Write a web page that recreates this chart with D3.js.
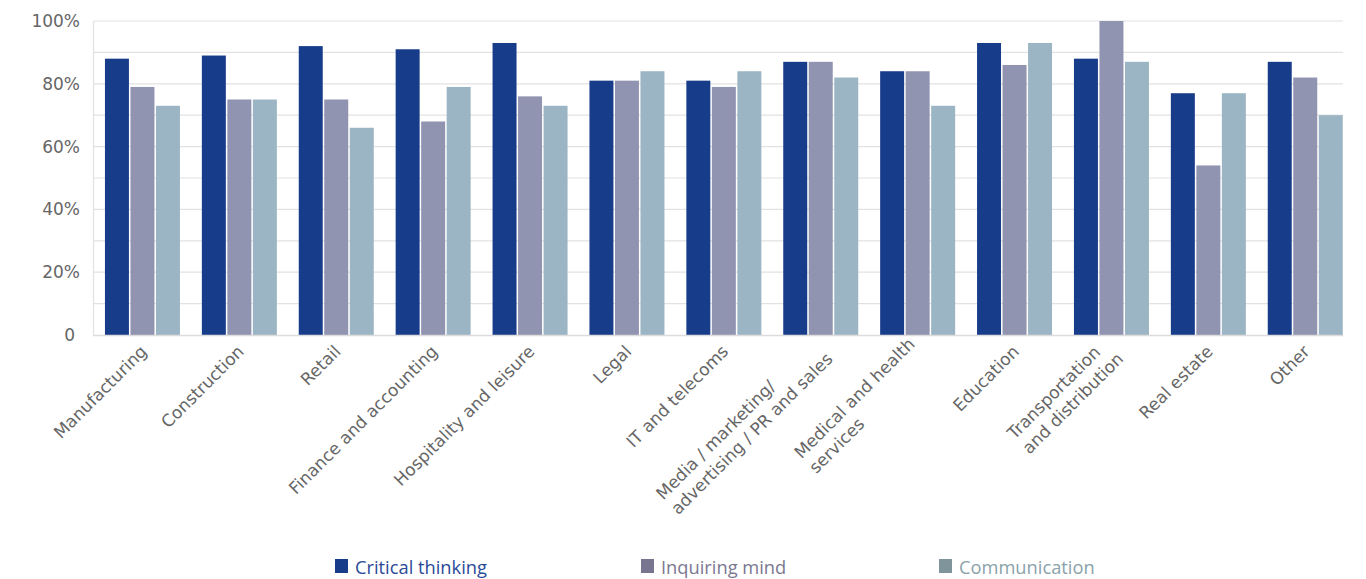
<!DOCTYPE html>
<html><head><meta charset="utf-8">
<script src="https://cdn.jsdelivr.net/npm/d3@7/dist/d3.min.js"></script>
<style>
html,body{margin:0;padding:0;background:#fff;}
svg{display:block;}
</style></head>
<body><svg id="chart" width="1366" height="579"></svg>
<script>
const categories = [
  ["Manufacturing"], ["Construction"], ["Retail"], ["Finance and accounting"],
  ["Hospitality and leisure"], ["Legal"], ["IT and telecoms"],
  ["Media / marketing/", "advertising / PR and sales"],
  ["Medical and health", "services"], ["Education"],
  ["Transportation", "and distribution"], ["Real estate"], ["Other"]
];
const seriesNames = ["Critical thinking", "Inquiring mind", "Communication"];
const criticalThinking = [88, 89, 92, 91, 93, 81, 81, 87, 84, 93, 88, 77, 87];
const inquiringMind    = [79, 75, 75, 68, 76, 81, 79, 87, 84, 86, 100, 54, 82];
const communication    = [73, 75, 66, 79, 73, 84, 84, 82, 73, 93, 87, 77, 70];
const yTicks = [0, 20, 40, 60, 80, 100];
const yTickLabels = ["0", "20%", "40%", "60%", "80%", "100%"];

const barColors = ["#173c8a", "#9194b1", "#9bb5c4"];
const legendSwatch = ["#173c8a", "#777590", "#7f959b"];
const legendText = ["#2a4a98", "#7a7890", "#8aa2aa"];

const series = [criticalThinking, inquiringMind, communication];
const keys = categories.map(c => c.join(" "));

const svg = d3.select("#chart");
const mLeft = 94, plotRight = 1343, mTop = 21, mBottom = 335;

const x0 = d3.scaleBand().domain(keys).range([mLeft, mLeft + 13 * 96.9])
  .paddingInner(0.226).paddingOuter(0.113);
const x1 = d3.scaleBand().domain(d3.range(3)).range([0, x0.bandwidth()]).paddingInner(0.06);
const y = d3.scaleLinear().domain([0, 100]).range([mBottom, mTop]);

// gridlines every 10
const grid = svg.append("g");
grid.selectAll("line").data(d3.range(10, 101, 10)).join("line")
  .attr("x1", mLeft).attr("x2", plotRight)
  .attr("y1", d => y(d)).attr("y2", d => y(d))
  .attr("stroke", "#e2e2e2").attr("stroke-width", 1.2);
// left axis line
svg.append("line").attr("x1", mLeft - 0.5).attr("x2", mLeft - 0.5)
  .attr("y1", mTop).attr("y2", mBottom).attr("stroke", "#e2e2e2").attr("stroke-width", 1.2);

// bars
const groups = svg.append("g").selectAll("g").data(keys).join("g")
  .attr("transform", k => `translate(${x0(k)},0)`);
groups.selectAll("rect").data((k, i) => series.map((s, j) => ({j, v: s[i]}))).join("rect")
  .attr("x", d => x1(d.j)).attr("width", x1.bandwidth())
  .attr("y", d => y(d.v)).attr("height", d => y(0) - y(d.v))
  .attr("fill", d => barColors[d.j]);

// bottom axis line
svg.append("line").attr("x1", mLeft - 1).attr("x2", plotRight)
  .attr("y1", mBottom + 0.5).attr("y2", mBottom + 0.5).attr("stroke", "#dcdcdc").attr("stroke-width", 1.5);

// y axis labels
const yAxis = d3.axisLeft(y).tickValues(yTicks).tickFormat((d, i) => yTickLabels[i]).tickSize(0).tickPadding(14);
const ya = svg.append("g").attr("transform", `translate(${mLeft},0)`).call(yAxis);
ya.select(".domain").remove();
ya.selectAll("text").attr("font-family", "DejaVu Sans, sans-serif").attr("font-size", 17).attr("fill", "#666");
ya.selectAll("text").filter(d => d === 0).attr("dx", -5);

// x labels: lines left-aligned, block right end at the tick, block vertically centred
const lh = 21;
const xl = svg.append("g");
categories.forEach((lines, i) => {
  const cx = x0(keys[i]) + x0.bandwidth() / 2;
  const g = xl.append("g").attr("transform", `translate(${cx + 2},${mBottom + 14}) rotate(-45)`);
  const texts = lines.map(t => g.append("text").text(t)
    .attr("font-family", "DejaVu Sans, sans-serif").attr("font-size", 17).attr("fill", "#666")
    .attr("text-anchor", "start"));
  const widths = texts.map(t => t.node().getComputedTextLength());
  const W = d3.max(widths);
  const n = lines.length;
  texts.forEach((t, li) => t.attr("x", -W).attr("y", (li - (n - 1) / 2) * lh + 5));
});

// legend
const legendX = [335, 641, 939];
seriesNames.forEach((n, i) => {
  svg.append("rect").attr("x", legendX[i]).attr("y", 559).attr("width", 13).attr("height", 14)
    .attr("fill", legendSwatch[i]);
  svg.append("text").attr("x", legendX[i] + 20).attr("y", 574).text(n)
    .attr("font-family", "Open Sans, sans-serif").attr("font-size", 18.3).attr("fill", legendText[i]);
});
</script></body></html>
